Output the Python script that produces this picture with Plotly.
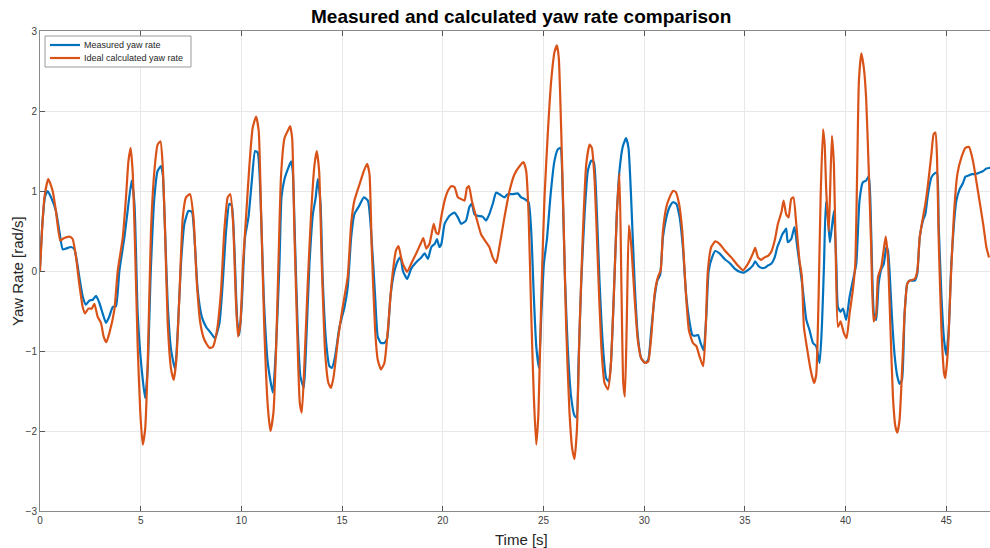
import plotly.graph_objects as go

# Measured yaw rate samples
t_measured = [0.0, 0.12, 0.25, 0.38, 0.55, 0.79, 0.96, 1.13, 1.29, 1.54, 1.71, 1.95, 2.12, 2.28, 2.45, 2.62, 2.78, 2.95, 3.11, 3.28, 3.44, 3.61, 3.77, 3.94, 4.19, 4.35, 4.55, 4.69, 4.85, 5.02, 5.22, 5.35, 5.5, 5.68, 5.84, 6.01, 6.1, 6.21, 6.34, 6.51, 6.71, 6.84, 7.0, 7.17, 7.37, 7.54, 7.67, 7.83, 8.03, 8.25, 8.5, 8.69, 8.91, 9.07, 9.24, 9.4, 9.52, 9.65, 9.79, 9.9, 10.02, 10.18, 10.35, 10.52, 10.68, 10.81, 10.95, 11.11, 11.31, 11.56, 11.72, 11.89, 11.99, 12.14, 12.3, 12.47, 12.55, 12.67, 12.8, 12.93, 13.1, 13.21, 13.38, 13.55, 13.69, 13.79, 13.93, 14.04, 14.21, 14.37, 14.5, 14.65, 14.87, 15.12, 15.28, 15.45, 15.61, 15.86, 16.08, 16.28, 16.44, 16.64, 16.77, 16.93, 17.1, 17.24, 17.4, 17.6, 17.77, 17.9, 18.02, 18.23, 18.43, 18.68, 18.93, 19.1, 19.26, 19.43, 19.6, 19.71, 19.83, 19.93, 20.09, 20.33, 20.58, 20.75, 20.91, 21.15, 21.32, 21.44, 21.57, 21.73, 21.98, 22.15, 22.31, 22.48, 22.65, 22.81, 23.06, 23.22, 23.47, 23.72, 23.89, 24.06, 24.26, 24.39, 24.52, 24.64, 24.77, 24.89, 25.02, 25.18, 25.34, 25.54, 25.71, 25.84, 25.96, 26.07, 26.2, 26.37, 26.54, 26.64, 26.74, 26.87, 27.04, 27.2, 27.37, 27.5, 27.62, 27.78, 27.95, 28.11, 28.24, 28.35, 28.49, 28.64, 28.77, 28.94, 29.1, 29.22, 29.35, 29.52, 29.68, 29.85, 30.05, 30.2, 30.35, 30.52, 30.65, 30.79, 30.93, 31.1, 31.26, 31.43, 31.59, 31.76, 31.92, 32.09, 32.26, 32.39, 32.5, 32.67, 32.8, 32.95, 33.09, 33.2, 33.37, 33.53, 33.74, 33.99, 34.24, 34.49, 34.74, 34.95, 35.15, 35.4, 35.51, 35.65, 35.81, 35.98, 36.15, 36.31, 36.48, 36.61, 36.74, 36.86, 36.97, 37.05, 37.13, 37.3, 37.46, 37.6, 37.76, 37.88, 38.05, 38.21, 38.38, 38.54, 38.71, 38.83, 38.93, 39.02, 39.12, 39.22, 39.32, 39.42, 39.54, 39.62, 39.75, 39.87, 40.03, 40.2, 40.36, 40.53, 40.69, 40.86, 41.02, 41.16, 41.27, 41.41, 41.52, 41.64, 41.77, 41.9, 42.02, 42.1, 42.19, 42.3, 42.44, 42.57, 42.68, 42.8, 42.93, 43.06, 43.18, 43.43, 43.56, 43.68, 43.84, 43.96, 44.09, 44.26, 44.42, 44.54, 44.62, 44.76, 44.89, 45.0, 45.12, 45.25, 45.38, 45.5, 45.66, 45.83, 45.95, 46.08, 46.28, 46.44, 46.66, 46.83, 46.99, 47.17, 47.3]
yaw_measured = [0.05, 0.6, 0.93, 1.0, 0.92, 0.75, 0.5, 0.27, 0.28, 0.3, 0.27, -0.07, -0.32, -0.42, -0.37, -0.36, -0.31, -0.4, -0.53, -0.65, -0.57, -0.45, -0.44, 0.0, 0.42, 0.75, 1.13, 0.84, -0.53, -1.15, -1.59, -1.2, 0.0, 0.92, 1.25, 1.31, 1.2, 0.5, -0.41, -0.99, -1.23, -0.74, 0.09, 0.59, 0.75, 0.74, 0.42, -0.24, -0.57, -0.7, -0.78, -0.84, -0.65, -0.16, 0.5, 0.84, 0.82, 0.3, -0.61, -0.8, -0.41, 0.42, 0.67, 1.13, 1.5, 1.48, 0.92, -0.32, -1.15, -1.52, -0.95, 0.09, 0.92, 1.15, 1.27, 1.37, 1.25, 0.3, -0.74, -1.32, -1.46, -0.94, 0.09, 0.71, 0.92, 1.15, 0.84, -0.12, -0.9, -1.19, -1.21, -1.07, -0.7, -0.45, -0.2, 0.42, 0.71, 0.82, 0.92, 0.88, 0.5, -0.32, -0.82, -0.9, -0.9, -0.84, -0.32, 0.0, 0.13, 0.17, 0.0, -0.1, 0.03, 0.11, 0.17, 0.22, 0.15, 0.3, 0.34, 0.4, 0.3, 0.34, 0.59, 0.69, 0.73, 0.67, 0.59, 0.63, 0.8, 0.84, 0.71, 0.69, 0.68, 0.63, 0.71, 0.84, 0.98, 0.96, 0.92, 0.96, 0.96, 0.97, 0.92, 0.9, 0.86, 0.5, -0.32, -0.94, -1.21, -0.57, 0.09, 0.42, 0.92, 1.37, 1.52, 1.54, 0.92, -0.12, -0.94, -1.57, -1.81, -1.83, -1.15, -0.16, 0.71, 1.25, 1.38, 1.36, 0.92, -0.12, -0.94, -1.34, -1.38, -1.15, -0.32, 0.71, 1.25, 1.56, 1.66, 1.54, 0.92, -0.12, -0.8, -1.09, -1.15, -1.11, -0.74, -0.32, -0.12, -0.05, 0.42, 0.67, 0.8, 0.86, 0.84, 0.67, 0.3, -0.32, -0.65, -0.8, -0.81, -0.8, -0.9, -0.99, -0.53, 0.0, 0.17, 0.25, 0.22, 0.15, 0.1, 0.03, -0.01, -0.02, 0.01, 0.07, 0.12, 0.07, 0.04, 0.04, 0.07, 0.09, 0.17, 0.3, 0.38, 0.46, 0.5, 0.53, 0.36, 0.4, 0.55, 0.3, 0.0, -0.24, -0.61, -0.74, -0.9, -0.94, -1.15, -0.65, 0.1, 0.86, 0.67, 0.36, 0.55, 0.75, 0.09, -0.45, -0.51, -0.47, -0.61, -0.32, -0.12, 0.09, 0.88, 1.11, 1.13, 1.19, 0.5, -0.55, -0.61, -0.16, 0.02, 0.09, 0.3, 0.26, -0.03, -0.57, -1.07, -1.32, -1.41, -1.36, -0.53, -0.16, -0.12, -0.12, -0.03, 0.42, 0.63, 0.71, 0.96, 1.17, 1.22, 1.23, 0.59, -0.32, -0.86, -1.05, -0.74, 0.09, 0.59, 0.88, 1.02, 1.1, 1.18, 1.19, 1.21, 1.21, 1.23, 1.25, 1.28, 1.29, 1.3]

# Ideal calculated yaw rate samples
t_ideal = [0.0, 0.1, 0.22, 0.41, 0.63, 0.79, 1.01, 1.18, 1.46, 1.62, 1.79, 1.95, 2.12, 2.24, 2.4, 2.57, 2.7, 2.86, 3.03, 3.16, 3.29, 3.44, 3.69, 3.86, 4.11, 4.27, 4.39, 4.5, 4.6, 4.72, 4.85, 4.98, 5.1, 5.22, 5.35, 5.51, 5.68, 5.84, 5.98, 6.09, 6.21, 6.34, 6.51, 6.64, 6.77, 6.92, 7.09, 7.25, 7.45, 7.62, 7.78, 7.96, 8.16, 8.41, 8.58, 8.79, 8.99, 9.15, 9.32, 9.45, 9.59, 9.72, 9.83, 9.95, 10.08, 10.23, 10.4, 10.56, 10.73, 10.86, 10.98, 11.14, 11.31, 11.44, 11.59, 11.72, 11.85, 11.97, 12.14, 12.3, 12.42, 12.52, 12.63, 12.77, 12.9, 13.0, 13.13, 13.3, 13.46, 13.63, 13.74, 13.86, 13.99, 14.16, 14.32, 14.45, 14.58, 14.79, 15.03, 15.28, 15.45, 15.61, 15.86, 16.08, 16.24, 16.36, 16.47, 16.64, 16.77, 16.93, 17.1, 17.27, 17.47, 17.68, 17.8, 17.93, 18.02, 18.23, 18.43, 18.68, 18.9, 19.03, 19.18, 19.34, 19.47, 19.55, 19.67, 19.78, 19.92, 20.09, 20.25, 20.42, 20.58, 20.75, 20.91, 21.08, 21.2, 21.3, 21.44, 21.66, 21.9, 22.15, 22.31, 22.48, 22.65, 22.81, 23.06, 23.31, 23.56, 23.81, 24.01, 24.14, 24.26, 24.39, 24.52, 24.64, 24.75, 24.89, 25.05, 25.22, 25.38, 25.55, 25.67, 25.76, 25.88, 26.01, 26.13, 26.29, 26.43, 26.54, 26.66, 26.79, 26.96, 27.12, 27.29, 27.4, 27.54, 27.7, 27.87, 28.03, 28.2, 28.33, 28.49, 28.64, 28.77, 28.87, 28.96, 29.04, 29.13, 29.24, 29.35, 29.52, 29.68, 29.85, 30.05, 30.2, 30.35, 30.52, 30.69, 30.82, 30.93, 31.1, 31.26, 31.43, 31.56, 31.73, 31.89, 32.06, 32.22, 32.42, 32.59, 32.75, 32.93, 33.05, 33.16, 33.33, 33.53, 33.74, 33.99, 34.32, 34.65, 34.9, 35.15, 35.4, 35.51, 35.65, 35.81, 35.98, 36.15, 36.31, 36.48, 36.64, 36.81, 36.92, 37.05, 37.17, 37.3, 37.41, 37.55, 37.71, 37.83, 37.93, 38.1, 38.26, 38.43, 38.54, 38.66, 38.76, 38.88, 38.96, 39.04, 39.16, 39.22, 39.32, 39.42, 39.52, 39.62, 39.75, 39.92, 40.05, 40.2, 40.36, 40.48, 40.58, 40.66, 40.78, 40.91, 41.02, 41.14, 41.27, 41.39, 41.51, 41.61, 41.77, 41.89, 41.99, 42.1, 42.23, 42.35, 42.47, 42.57, 42.68, 42.82, 42.93, 43.06, 43.18, 43.43, 43.56, 43.68, 43.84, 43.96, 44.09, 44.26, 44.37, 44.46, 44.54, 44.62, 44.76, 44.89, 44.95, 45.08, 45.22, 45.38, 45.55, 45.75, 45.95, 46.13, 46.33, 46.57, 46.83, 46.99, 47.12]
yaw_ideal = [0.0, 0.5, 0.92, 1.15, 1.0, 0.75, 0.38, 0.41, 0.43, 0.4, 0.17, -0.16, -0.45, -0.53, -0.47, -0.47, -0.41, -0.57, -0.65, -0.82, -0.89, -0.78, -0.49, 0.0, 0.42, 0.92, 1.37, 1.54, 1.25, 0.3, -0.94, -1.77, -2.17, -1.98, -1.15, 0.5, 1.25, 1.58, 1.62, 1.33, 0.5, -0.65, -1.23, -1.36, -1.11, -0.32, 0.67, 0.92, 0.96, 0.67, -0.12, -0.65, -0.86, -0.96, -0.95, -0.74, -0.24, 0.5, 0.92, 0.96, 0.59, -0.32, -0.82, -0.65, 0.09, 0.67, 1.33, 1.79, 1.93, 1.75, 0.71, -0.74, -1.69, -2.0, -1.77, -1.0, 0.2, 1.2, 1.66, 1.75, 1.81, 1.66, 0.5, -0.74, -1.65, -1.77, -1.15, -0.12, 0.71, 1.33, 1.5, 1.25, 0.09, -1.03, -1.4, -1.46, -1.32, -0.86, -0.45, -0.07, 0.59, 0.88, 1.08, 1.25, 1.34, 1.21, 0.3, -0.74, -1.11, -1.23, -1.15, -0.74, -0.12, 0.26, 0.31, 0.17, 0.09, -0.01, 0.09, 0.22, 0.34, 0.41, 0.28, 0.34, 0.5, 0.59, 0.48, 0.46, 0.67, 0.88, 1.0, 1.06, 1.05, 0.92, 0.9, 0.88, 1.04, 1.06, 0.88, 0.67, 0.46, 0.36, 0.3, 0.17, 0.1, 0.3, 0.67, 1.0, 1.21, 1.31, 1.36, 1.25, 0.71, -0.53, -1.57, -2.17, -1.77, -0.32, 0.92, 1.75, 2.37, 2.74, 2.82, 2.66, 1.75, 0.5, -0.74, -1.77, -2.23, -2.35, -1.98, -0.74, 0.5, 1.33, 1.58, 1.54, 1.13, 0.09, -0.94, -1.4, -1.48, -1.23, -0.32, 0.71, 1.22, -0.2, -1.4, -1.57, -0.7, 0.57, 0.34, -0.32, -0.86, -1.09, -1.15, -1.13, -0.82, -0.28, -0.07, 0.01, 0.5, 0.8, 0.92, 1.0, 0.99, 0.84, 0.5, -0.24, -0.74, -0.9, -0.94, -1.07, -1.19, -0.74, 0.0, 0.3, 0.37, 0.34, 0.26, 0.17, 0.07, 0.01, 0.09, 0.22, 0.29, 0.17, 0.14, 0.17, 0.19, 0.24, 0.38, 0.59, 0.73, 0.88, 0.71, 0.67, 0.9, 0.92, 0.59, 0.13, -0.07, -0.7, -0.99, -1.23, -1.4, -1.3, -0.32, 0.92, 1.77, 1.58, 1.0, 0.5, 0.9, 1.69, 1.33, 0.09, -0.7, -0.63, -0.78, -0.84, -0.53, -0.24, 0.09, 1.33, 2.37, 2.72, 2.53, 2.16, 1.33, 0.3, -0.63, -0.55, -0.07, 0.05, 0.26, 0.43, 0.17, -0.74, -1.57, -1.94, -2.02, -1.86, -1.15, -0.53, -0.16, -0.12, -0.1, 0.0, 0.42, 0.67, 0.84, 1.08, 1.46, 1.71, 1.73, 1.42, 0.42, -0.74, -1.28, -1.34, -0.99, -0.12, 0.71, 1.21, 1.42, 1.54, 1.55, 1.37, 1.0, 0.59, 0.3, 0.17]

series_names = ["Measured yaw rate", "Ideal calculated yaw rate"]
x_ticks = [0, 5, 10, 15, 20, 25, 30, 35, 40, 45]
y_ticks = [-3, -2, -1, 0, 1, 2, 3]

BLUE = "#0072BD"
ORANGE = "#D95319"
FONT = "Liberation Sans, Arial, sans-serif"

fig = go.Figure()
fig.add_trace(go.Scatter(
    x=t_measured, y=yaw_measured, mode="lines", name=series_names[0],
    line=dict(color=BLUE, width=2.2, shape="spline", smoothing=0.5),
    showlegend=False,
))
fig.add_trace(go.Scatter(
    x=t_ideal, y=yaw_ideal, mode="lines", name=series_names[1],
    line=dict(color=ORANGE, width=2.2, shape="spline", smoothing=0.5),
    showlegend=False,
))

L, R, T, B = 40, 0, 31, 37
W, H = 990, 548
pw, ph = W - L - R, H - T - B

def px_x(px):
    return (px - L) / pw

def px_y(py):
    return (H - B - py) / ph

axis_common = dict(
    showgrid=True, gridcolor="#e8e8e8", gridwidth=1,
    zeroline=False, showline=True, linecolor="#8a8a8a", linewidth=1,
    ticks="inside", ticklen=5, tickcolor="#555555",
    tickfont=dict(family=FONT, size=10, color="#404040"),
)

# Compact MATLAB-style legend box in the upper-left corner
shapes = [dict(type="rect", xref="paper", yref="paper",
               x0=px_x(45), x1=px_x(191), y0=px_y(36), y1=px_y(67),
               line=dict(color="#9a9a9a", width=1), fillcolor="white", layer="above")]
annotations = []
for i, (name, color) in enumerate(zip(series_names, [BLUE, ORANGE])):
    row_y = 45 + i * 13
    shapes.append(dict(type="line", xref="paper", yref="paper",
                       x0=px_x(50), x1=px_x(80), y0=px_y(row_y), y1=px_y(row_y),
                       line=dict(color=color, width=2.2), layer="above"))
    annotations.append(dict(text=name, xref="paper", yref="paper",
                            x=px_x(82), y=px_y(row_y), xanchor="left", yanchor="middle",
                            showarrow=False,
                            font=dict(family=FONT, size=9, color="#262626")))

annotations += [
    dict(text="<b>Measured and calculated yaw rate comparison</b>",
         xref="paper", yref="paper", x=px_x(521), y=px_y(16),
         xanchor="center", yanchor="middle", showarrow=False,
         font=dict(family=FONT, size=19, color="#000000")),
    dict(text="Time [s]", xref="paper", yref="paper",
         x=px_x(521), y=px_y(539), xanchor="center", yanchor="middle",
         showarrow=False, font=dict(family=FONT, size=15, color="#262626")),
    dict(text="Yaw Rate [rad/s]", xref="paper", yref="paper",
         x=px_x(17), y=px_y(271), xanchor="center", yanchor="middle",
         textangle=-90, showarrow=False,
         font=dict(family=FONT, size=15, color="#262626")),
]

fig.update_layout(
    width=W, height=H,
    margin=dict(l=L, r=R, t=T, b=B),
    paper_bgcolor="white", plot_bgcolor="white",
    showlegend=False,
    xaxis=dict(range=[0, 47.17], tickvals=x_ticks, mirror="ticks", **axis_common),
    yaxis=dict(range=[-3, 3], tickvals=y_ticks, **axis_common),
    shapes=shapes,
    annotations=annotations,
)

fig.write_html("out.html")
